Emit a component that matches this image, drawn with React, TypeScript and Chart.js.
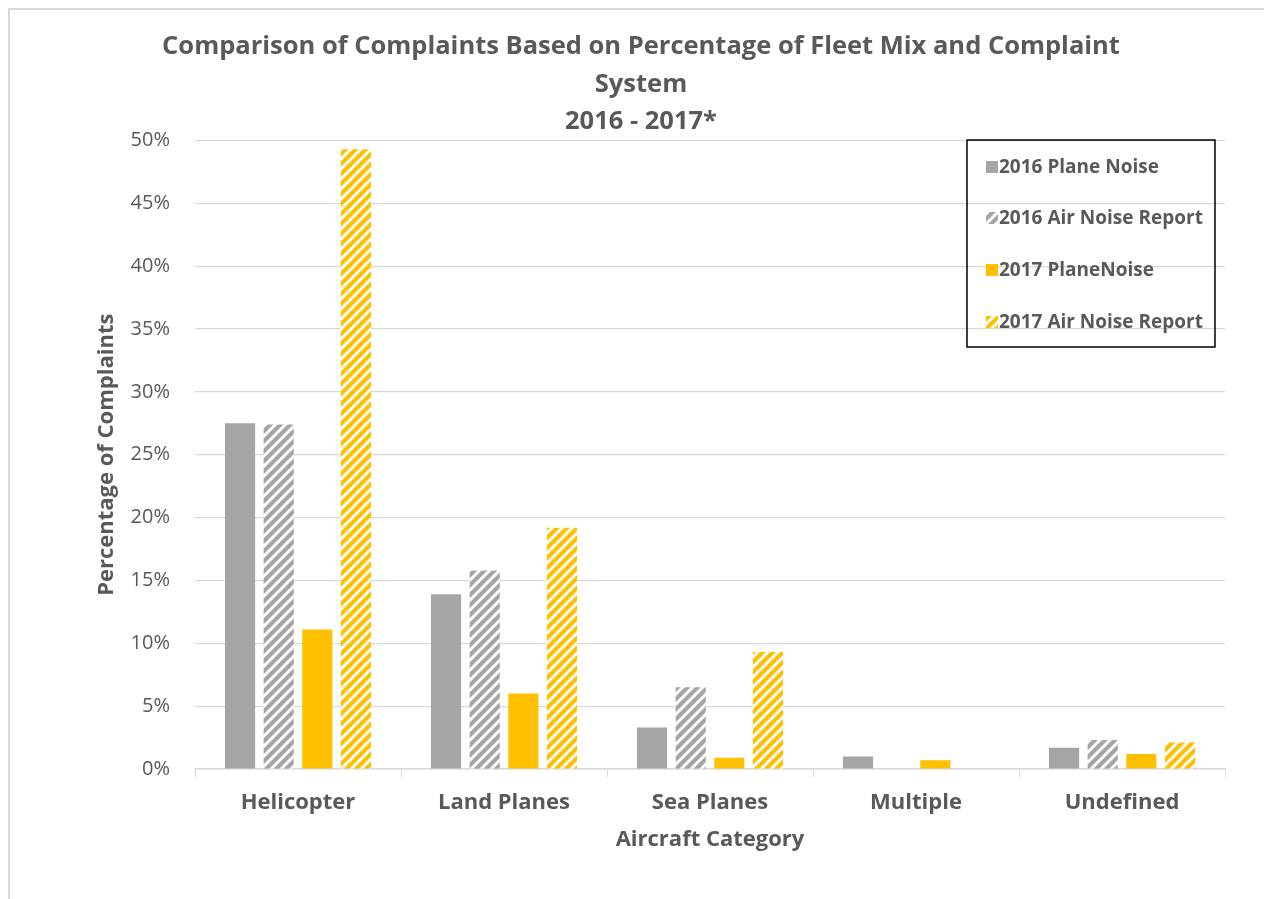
import React, { useEffect, useRef } from 'react';
import { Chart, registerables } from 'chart.js';

Chart.register(...registerables);

const categories = ['Helicopter', 'Land Planes', 'Sea Planes', 'Multiple', 'Undefined'];
const seriesNames = ['2016 Plane Noise', '2016 Air Noise Report', '2017 PlaneNoise', '2017 Air Noise Report'];
const planeNoise2016 = [27.5, 13.9, 3.3, 1.0, 1.7];
const airNoise2016 = [27.4, 15.8, 6.5, 0, 2.3];
const planeNoise2017 = [11.1, 6.0, 0.9, 0.7, 1.2];
const airNoise2017 = [49.3, 19.2, 9.3, 0, 2.1];
const yTickValues = [0, 5, 10, 15, 20, 25, 30, 35, 40, 45, 50];
const titleLines = ['Comparison of Complaints Based on Percentage of Fleet Mix and Complaint', 'System', '2016 - 2017*'];

const GRAY = '#A5A5A5';
const GOLD = '#FFC000';
const TEXT = '#595959';
const FONT = "'Open Sans', sans-serif";

function hatch(color: string): CanvasPattern {
  const s = 10;
  const c = document.createElement('canvas');
  c.width = s;
  c.height = s;
  const x = c.getContext('2d')!;
  x.fillStyle = color;
  x.fillRect(0, 0, s, s);
  x.strokeStyle = '#ffffff';
  x.lineWidth = 3;
  x.beginPath();
  x.moveTo(-2, s + 2);
  x.lineTo(s + 2, -2);
  x.moveTo(-3, 3);
  x.lineTo(3, -3);
  x.moveTo(s - 3, s + 3);
  x.lineTo(s + 3, s - 3);
  x.stroke();
  return x.createPattern(c, 'repeat')!;
}

export default function App() {
  const ref = useRef<HTMLCanvasElement>(null);

  useEffect(() => {
    document.body.style.overflow = 'hidden';
    const grayHatch = hatch(GRAY);
    const goldHatch = hatch(GOLD);
    const fills: (string | CanvasPattern)[] = [GRAY, grayHatch, GOLD, goldHatch];
    const values = [planeNoise2016, airNoise2016, planeNoise2017, airNoise2017];

    const legendPlugin = {
      id: 'boxLegend',
      afterDraw(chart: any) {
        const ctx = chart.ctx as CanvasRenderingContext2D;
        ctx.save();
        ctx.strokeStyle = '#000000';
        ctx.lineWidth = 1.5;
        ctx.strokeRect(957, 130, 248, 207);
        const ys = [157, 208, 260, 312];
        ctx.font = `bold 19px ${FONT}`;
        ctx.textBaseline = 'middle';
        ctx.textAlign = 'left';
        seriesNames.forEach((name, i) => {
          ctx.fillStyle = fills[i] as any;
          ctx.fillRect(976, ys[i] - 6, 12, 12);
          ctx.fillStyle = TEXT;
          ctx.fillText(name, 989, ys[i] + 1);
        });
        ctx.restore();
      },
    };

    const chart = new Chart(ref.current!, {
      type: 'bar',
      data: {
        labels: categories,
        datasets: seriesNames.map((name, i) => ({
          label: name,
          data: values[i],
          backgroundColor: fills[i] as any,
          borderWidth: 0,
          categoryPercentage: 0.75,
          barPercentage: 0.78,
          yAxisID: 'y',
        })),
      },
      options: {
        responsive: false,
        animation: false,
        layout: { padding: 0 },
        plugins: {
          legend: { display: false },
          tooltip: { enabled: false },
          title: {
            display: true,
            text: titleLines,
            color: TEXT,
            font: { family: FONT, size: 25.5, weight: 'bold', lineHeight: 37.5 / 25.5 },
            padding: { top: 18, bottom: 0 },
          },
        },
        scales: {
          x: {
            type: 'category',
            grid: {
              display: true,
              drawOnChartArea: false,
              drawTicks: true,
              tickLength: 8,
              color: '#D9D9D9',
              offset: true,
            },
            border: { display: true, color: '#D9D9D9', width: 1.5 },
            ticks: {
              color: TEXT,
              padding: 13,
              font: { family: FONT, size: 22, weight: 'bold' },
            },
            title: {
              display: true,
              text: 'Aircraft Category',
              color: TEXT,
              font: { family: FONT, size: 22, weight: 'bold' },
              padding: { top: 0, bottom: 46 },
            },
            afterFit(s: any) {
              s.height = 130;
            },
          },
          y: {
            type: 'linear',
            position: 'left',
            min: 0,
            max: 50,
            afterBuildTicks(s: any) {
              s.ticks = yTickValues.map((v) => ({ value: v }));
            },
            grid: { color: '#D9D9D9', lineWidth: 1.2, drawTicks: false },
            border: { display: false },
            ticks: {
              color: TEXT,
              padding: 25,
              font: { family: FONT, size: 20 },
              callback: (v: any) => `${v}%`,
            },
            title: {
              display: true,
              text: 'Percentage of Complaints',
              color: TEXT,
              font: { family: FONT, size: 22, weight: 'bold' },
              padding: { top: 84, bottom: 0 },
            },
            afterFit(s: any) {
              s.width = 185;
            },
          },
          yR: {
            type: 'linear',
            position: 'right',
            display: true,
            grid: { display: false, drawTicks: false },
            border: { display: false },
            ticks: { display: false },
            afterFit(s: any) {
              s.width = 47;
            },
          },
        },
      } as any,
      plugins: [legendPlugin],
    });
    return () => chart.destroy();
  }, []);

  return (
    <div
      style={{
        width: 1264,
        height: 891,
        boxSizing: 'border-box',
        borderTop: '2px solid #D9D9D9',
        borderLeft: '2px solid #D9D9D9',
        background: '#fff',
      }}
    >
      <canvas ref={ref} width={1262} height={889} style={{ display: 'block' }} />
    </div>
  );
}
